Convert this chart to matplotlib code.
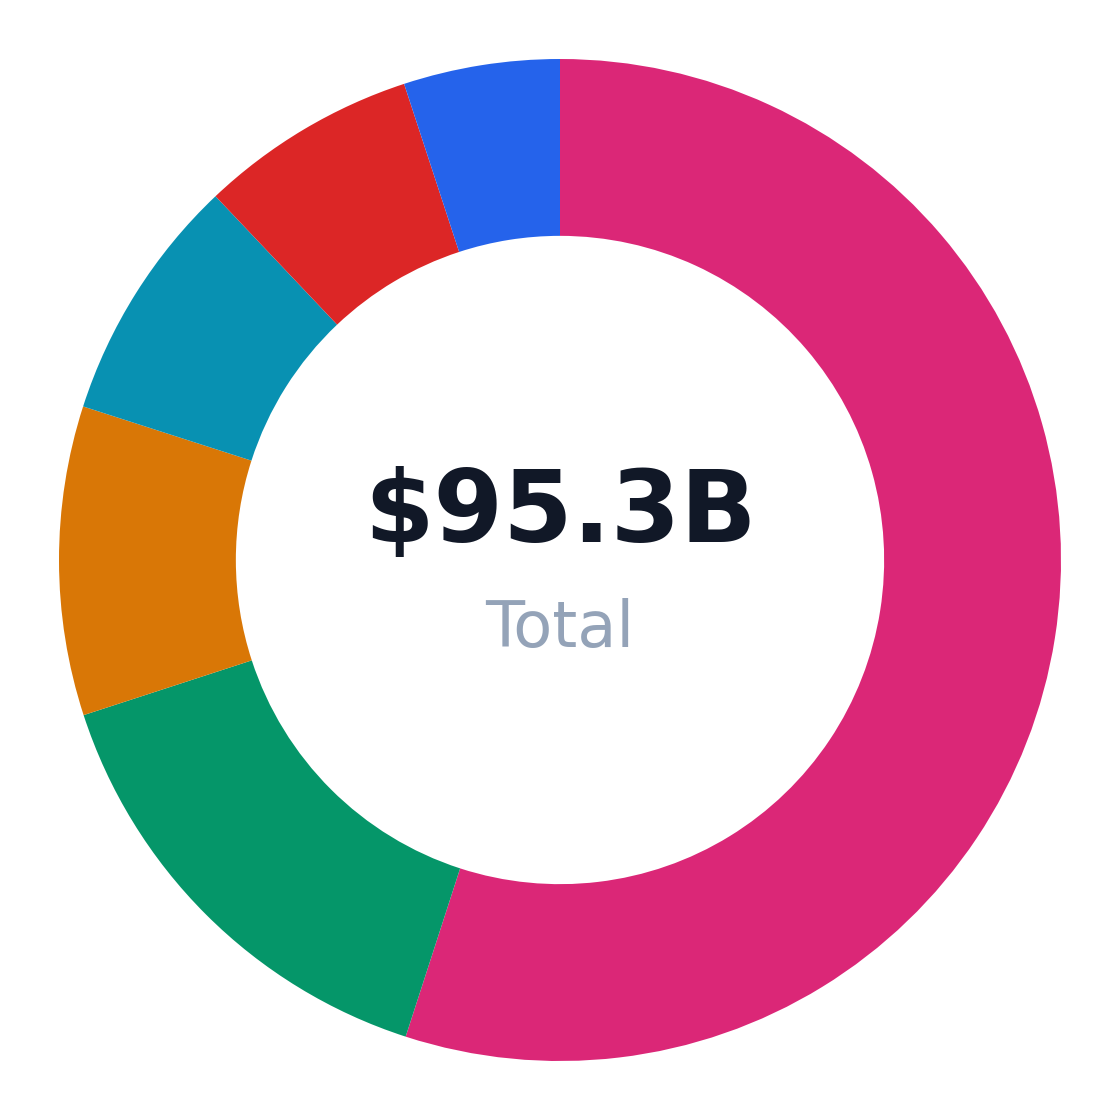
import matplotlib
matplotlib.use("Agg")
import matplotlib.pyplot as plt

# segment values in $B, clockwise from the top
labels = ["Pink", "Green", "Orange", "Teal", "Red", "Blue"]
values = [52.4, 14.3, 9.5, 7.6, 6.7, 4.8]
colors = ["#DB2777", "#059669", "#D97706", "#0891B2", "#DC2626", "#2563EB"]
total_label = "$95.3B"
sub_label = "Total"

fig = plt.figure(figsize=(11.2, 11.2), dpi=100)
ax = fig.add_axes([0, 0, 1, 1])

ax.pie(values, colors=colors, startangle=90, counterclock=False,
       radius=1.0, wedgeprops=dict(width=0.353, edgecolor="none"))

ax.text(0, 0.09, total_label, ha="center", va="center",
        fontsize=72, fontweight="bold", color="#111827")
ax.text(0, -0.137, sub_label, ha="center", va="center",
        fontsize=46, color="#94A3B8")

lim = 560 / 501
ax.set_xlim(-lim, lim)
ax.set_ylim(-lim, lim)
ax.set_aspect("equal")
ax.axis("off")

fig.savefig("out.png", dpi=100, facecolor="white")
